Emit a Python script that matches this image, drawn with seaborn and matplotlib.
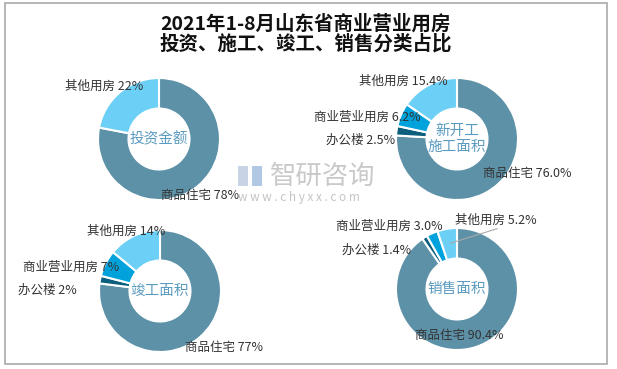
import matplotlib
matplotlib.use("Agg")
import matplotlib.pyplot as plt
import seaborn as sns
from matplotlib.patches import Rectangle

sns.set_theme(style="white")
plt.rcParams['font.family'] = ['Noto Sans CJK SC', 'DejaVu Sans']

# data
categories = ["商品住宅", "办公楼", "商业营业用房", "其他用房"]
invest = [78, 0, 0, 22]            # 投资金额 (only two parts)
new_start = [76.0, 2.5, 6.2, 15.4]  # 新开工施工面积
completed = [77, 2, 7, 14]          # 竣工面积
sales = [90.4, 1.4, 3.0, 5.2]       # 销售面积
centers_txt = ["投资金额", "新开工\n施工面积", "竣工面积", "销售面积"]

colors = ["#5d91a8", "#0b5e7c", "#00a2dc", "#6ccff6"]
W, H = 617, 369
R = 61.0  # px per unit radius

fig = plt.figure(figsize=(W / 100, H / 100), dpi=100)
fig.patch.set_facecolor("white")
fig.add_artist(Rectangle((5 / W, 5 / H), 602 / W, 361 / H, transform=fig.transFigure,
                         fill=False, edgecolor="#aaaaaa", linewidth=1.2))

fig.text(306 / W, 1 - 24 / H, "2021年1-8月山东省商业营业用房", ha="center", va="center",
         fontsize=14, color="#111111", fontweight="bold")
fig.text(306 / W, 1 - 44 / H, "投资、施工、竣工、销售分类占比", ha="center", va="center",
         fontsize=14, color="#111111", fontweight="bold")


def donut(cx, cy, values, fmt, center_txt, labels):
    ax = fig.add_axes([(cx - 150) / W, (H - cy - 75) / H, 300 / W, 150 / H])
    vals = [v for v in values if v > 0]
    cols = [c for v, c in zip(values, colors) if v > 0]
    ax.pie(vals, colors=cols, startangle=90, counterclock=False, radius=1,
           wedgeprops=dict(width=0.5, edgecolor="white", linewidth=1.5))
    ax.set_xlim(-150 / R, 150 / R)
    ax.set_ylim(-75 / R, 75 / R)
    ax.set_aspect("equal")
    ax.axis("off")
    ax.text(0, 0, center_txt, ha="center", va="center", fontsize=10.5,
            color="#5b9bc0", linespacing=1.15)
    for name, v in zip(categories, values):
        if v <= 0:
            continue
        x, y, ha = labels[name]
        ax.text(x, y, f"{name} {v:{fmt}}%", ha=ha, va="center", fontsize=9,
                color="#333333", clip_on=False)
    return ax


donut(159, 139, invest, ".0f", centers_txt[0],
      {"其他用房": (-0.26, 0.87, "right"), "商品住宅": (0.03, -0.93, "left")})
donut(457, 139, new_start, ".1f", centers_txt[1],
      {"其他用房": (-0.15, 0.95, "right"), "商业营业用房": (-0.59, 0.36, "right"),
       "办公楼": (-1.02, -0.02, "right"), "商品住宅": (0.43, -0.56, "left")})
donut(160, 291, completed, ".0f", centers_txt[2],
      {"其他用房": (0.08, 0.98, "right"), "商业营业用房": (-0.67, 0.39, "right"),
       "办公楼": (-1.36, 0.02, "right"), "商品住宅": (0.41, -0.92, "left")})
ax4 = donut(457, 289, sales, ".1f", centers_txt[3],
            {"其他用房": (-0.03, 1.12, "left"), "商业营业用房": (-0.23, 1.03, "right"),
             "办公楼": (-0.75, 0.64, "right"), "商品住宅": (0.03, -0.77, "center")})
ax4.plot([-0.11, 0.66], [0.75, 0.99], color="#aaaaaa", linewidth=0.8)

# watermark
fig.text(270 / W, 1 - 176 / H, "智研咨询", ha="left", va="center", fontsize=19,
         color="#c4c4c4", alpha=0.9)
fig.text(238 / W, 1 - 197 / H, "w w w . c h y x x . c o m", ha="left", va="center",
         fontsize=8.5, color="#c4c4c4")
fig.add_artist(Rectangle((238 / W, 1 - 186 / H), 10 / W, 20 / H, transform=fig.transFigure,
                         facecolor="#c8d4e6", edgecolor="none"))
fig.add_artist(Rectangle((252 / W, 1 - 186 / H), 10 / W, 20 / H, transform=fig.transFigure,
                         facecolor="#b0c8e4", edgecolor="none"))

fig.savefig("out.png", dpi=100, facecolor="white")
